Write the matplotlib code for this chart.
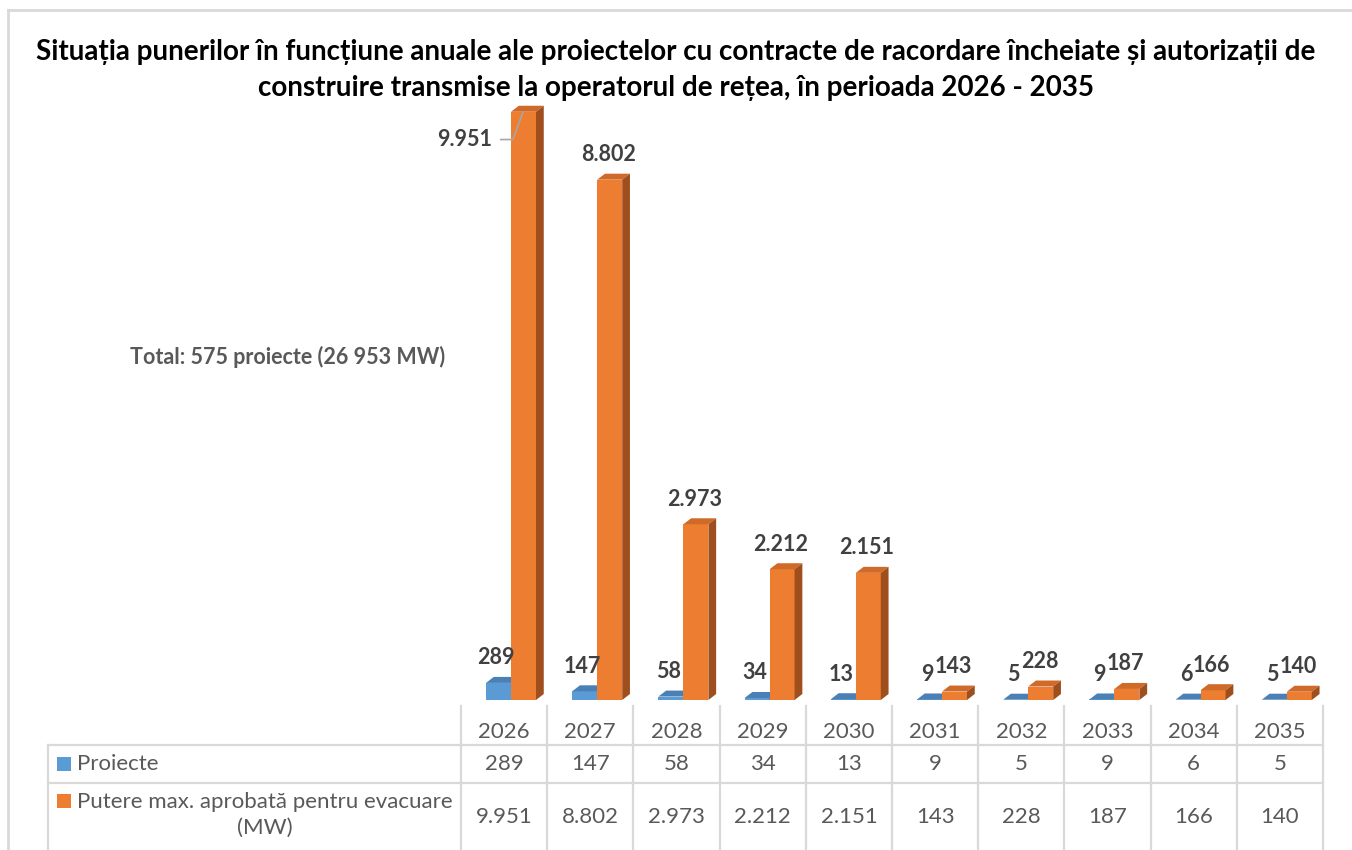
import matplotlib.pyplot as plt
import matplotlib.transforms as mtransforms
from matplotlib.patches import Polygon, Rectangle
from matplotlib.lines import Line2D

plt.rcParams['font.family'] = ['Lato', 'DejaVu Sans']

# date
years = [2026, 2027, 2028, 2029, 2030, 2031, 2032, 2033, 2034, 2035]
proiecte = [289, 147, 58, 34, 13, 9, 5, 9, 6, 5]
putere = [9951, 8802, 2973, 2212, 2151, 143, 228, 187, 166, 140]
serii = ["Proiecte", "Putere max. aprobată pentru evacuare\n(MW)"]
titlu = ["Situația punerilor în funcțiune anuale ale proiectelor cu contracte de racordare încheiate și autorizații de",
         "construire transmise la operatorul de rețea, în perioada 2026 - 2035"]
total = "Total: 575 proiecte (26 953 MW)"


def fmt(v):
    return f"{v:,}".replace(",", ".")


W, H = 1352, 850
fig = plt.figure(figsize=(W / 100, H / 100), dpi=100)


def fx(x):
    return x / W


def fy(y):
    return 1 - y / H


# culori
blue = ("#5B9BD5", "#4A80B5", "#3F6F9C")
orange = ("#ED7D31", "#CF6A28", "#9E4F1D")
grid_c = "#D9D9D9"
txt_c = "#595959"
lbl_c = "#404040"

# zona barelor
ax = fig.add_axes([fx(461), fy(700), (1323 - 461) / W, 600 / H])
YMAX = 10150
ax.set_xlim(-0.5, 9.5)
ax.set_ylim(0, YMAX)
ax.axis("off")

bw = 0.29
dx = 0.09
dy = 6 * YMAX / 600


def bar3d(x0, v, cols, z):
    x1 = x0 + bw
    ax.add_patch(Rectangle((x0, 0), bw, v, facecolor=cols[0], edgecolor="none", zorder=z, clip_on=False))
    ax.add_patch(Polygon([(x0, v), (x1, v), (x1 + dx, v + dy), (x0 + dx, v + dy)],
                         closed=True, facecolor=cols[1], edgecolor="none", zorder=z, clip_on=False))
    ax.add_patch(Polygon([(x1, 0), (x1 + dx, dy), (x1 + dx, v + dy), (x1, v)],
                         closed=True, facecolor=cols[2], edgecolor="none", zorder=z, clip_on=False))


for i in range(len(years)):
    bar3d(i - 0.21, proiecte[i], blue, 2)
    bar3d(i + 0.08, putere[i], orange, 3)

lbl_kw = dict(textcoords="offset points", ha="center", va="center", fontsize=15.5,
              fontweight="bold", color=lbl_c, annotation_clip=False)
for i in range(len(years)):
    ax.annotate(str(proiecte[i]), xy=(i - 0.09, proiecte[i]), xytext=(0, 18), zorder=5, **lbl_kw)
    if i == 0:
        ax.annotate(fmt(putere[i]), xy=(i + 0.22, putere[i]), xytext=(-42, -20), zorder=5,
                    arrowprops=dict(arrowstyle="-", color="#A6A6A6", lw=1.2, shrinkA=4, shrinkB=0,
                                    relpos=(1, 0.5),
                                    connectionstyle="angle,angleA=0,angleB=70,rad=0"),
                    **lbl_kw)
    else:
        ax.annotate(fmt(putere[i]), xy=(i + 0.21, putere[i]), xytext=(0, 18), zorder=5, **lbl_kw)

# titlu si total
fig.text(0.5, fy(52), titlu[0], ha="center", va="center", fontsize=20, fontweight="bold", color="black")
fig.text(0.5, fy(88), titlu[1], ha="center", va="center", fontsize=20, fontweight="bold", color="black")
fig.text(fx(130), fy(357), total, ha="left", va="center", fontsize=15.5, fontweight="bold", color=txt_c)

# chenar
fig.add_artist(Line2D([fx(8), fx(8)], [fy(10), 0], color=grid_c, lw=2))
fig.add_artist(Line2D([fx(8), 1], [fy(10), fy(10)], color=grid_c, lw=2))

# tabel de date
tr = mtransforms.blended_transform_factory(ax.transData, fig.transFigure)
for k in range(len(years) + 1):
    fig.add_artist(Line2D([k - 0.5, k - 0.5], [fy(706), 0], transform=tr, color=grid_c, lw=1.6))
for y in (745, 783):
    fig.add_artist(Line2D([fx(48), fx(1323)], [fy(y), fy(y)], color=grid_c, lw=1.6))
fig.add_artist(Line2D([fx(48), fx(48)], [fy(745), 0], color=grid_c, lw=1.6))

tab_kw = dict(ha="center", va="center", fontsize=16, color=txt_c)
for i in range(len(years)):
    fig.text(i, fy(732), str(years[i]), transform=tr, **tab_kw)
    fig.text(i, fy(764), str(proiecte[i]), transform=tr, **tab_kw)
    fig.text(i, fy(817), fmt(putere[i]), transform=tr, **tab_kw)

fig.add_artist(Rectangle((fx(57), fy(771)), 14 / W, 14 / H, facecolor=blue[0], edgecolor="none"))
fig.add_artist(Rectangle((fx(57), fy(808)), 14 / W, 14 / H, facecolor=orange[0], edgecolor="none"))
fig.text(fx(77), fy(764), serii[0], ha="left", va="center", fontsize=16, color=txt_c)
fig.text(fx(265), fy(815), serii[1], ha="center", va="center", multialignment="center",
         fontsize=16, color=txt_c, linespacing=1.35)

fig.savefig("out.png", dpi=100)
